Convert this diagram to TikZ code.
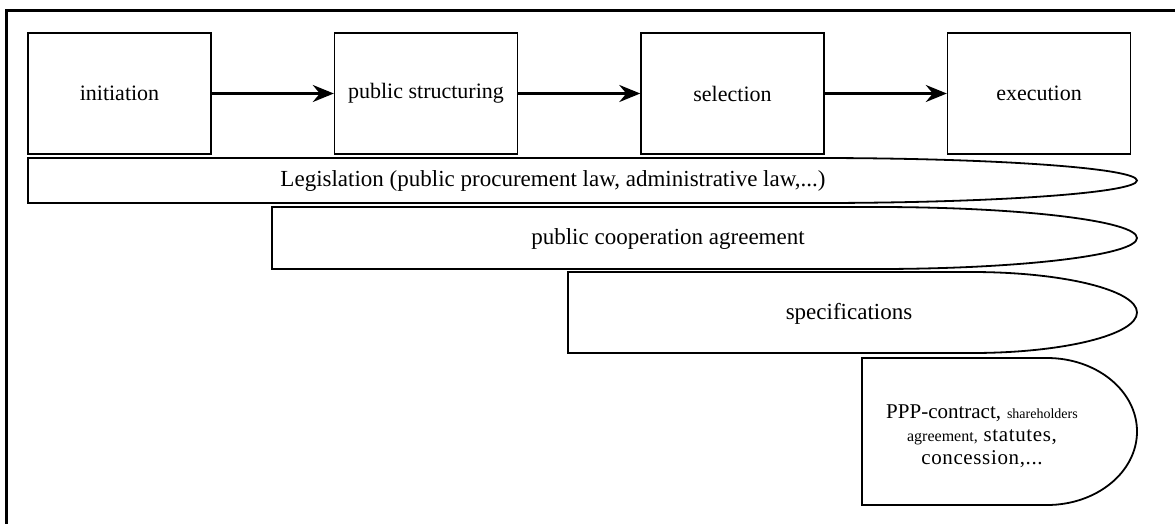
\documentclass[tikz,border=0pt]{standalone}
\usepackage{fontspec}
\setmainfont{Liberation Serif}
\newfontfamily\spacedserif[LetterSpace=3]{Liberation Serif}
\usetikzlibrary{arrows.meta}
\tikzset{
  stagebox/.style={draw, line width=1.4pt, minimum width=183pt, minimum height=121pt, inner sep=0pt, font=\fontsize{22}{26}\selectfont},
  flow/.style={line width=2.8pt, -{Stealth[length=21pt, width=17pt, inset=7pt]}},
  lane/.style={draw, line width=1.8pt},
  lanetext/.style={font=\fontsize{23}{27}\selectfont, inner sep=0pt},
  frame/.style={line width=3pt}
}
\begin{document}
\begin{tikzpicture}[x=1pt,y=-1pt]
\useasboundingbox (0,0) rectangle (1175,523);
% outer frame (only top and left visible)
\draw[frame] (6,530) -- (6,10) -- (1180,10);
% stages
\node[stagebox] (init) at (119.5,93.5) {initiation};
\node[stagebox] (pubs) at (426,93.5) {public structuring};
\node[stagebox] (sel)  at (732.5,93.5) {selection};
\node[stagebox] (exe)  at (1039,93.5) {execution};
\draw[flow] (init.east) -- (pubs.west);
\draw[flow] (pubs.east) -- (sel.west);
\draw[flow] (sel.east) -- (exe.west);
% lanes: rectangle with half-elliptic right end (tip at x=1137)
\draw[lane] (28,158) -- (817,158) arc[start angle=-90, end angle=90, x radius=320, y radius=22.5] -- (28,203) -- cycle;
\node[lanetext] (leg) at (553,181) {Legislation (public procurement law, administrative law,...)};
\draw[lane] (272,207) -- (877,207) arc[start angle=-90, end angle=90, x radius=260, y radius=31] -- (272,269) -- cycle;
\node[lanetext] (coop) at (668,239) {public cooperation agreement};
\draw[lane] (568,272) -- (972,272) arc[start angle=-90, end angle=90, x radius=165, y radius=40.5] -- (568,353) -- cycle;
\node[lanetext] (spec) at (849,314) {specifications};
\draw[lane] (862,358) -- (1047,358) arc[start angle=-90, end angle=90, x radius=90, y radius=73.5] -- (862,505) -- cycle;
\node[inner sep=0pt, align=center, font=\spacedserif\fontsize{21}{23}\selectfont] (ppp) at (982,436)
  {{\rmfamily\fontsize{21}{23}\selectfont PPP-contract,} {\rmfamily\fontsize{14}{23}\selectfont shareholders}\\
   {\rmfamily\fontsize{16}{23}\selectfont agreement,} statutes,\\
   concession,...};
\end{tikzpicture}
\end{document}
